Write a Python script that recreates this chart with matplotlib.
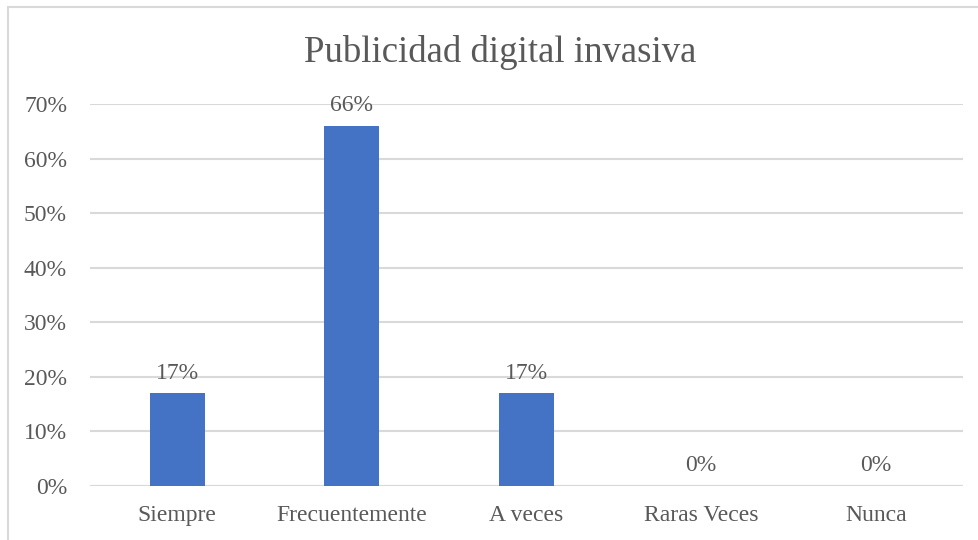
import matplotlib.pyplot as plt
from matplotlib.patches import Rectangle
from matplotlib.ticker import PercentFormatter

categorias = ["Siempre", "Frecuentemente", "A veces", "Raras Veces", "Nunca"]
porcentajes = [0.17, 0.66, 0.17, 0.0, 0.0]
etiquetas = ["17%", "66%", "17%", "0%", "0%"]

plt.rcParams['font.family'] = ['Liberation Serif', 'DejaVu Serif']
gris = '#595959'

fig = plt.figure(figsize=(9.79, 5.4), dpi=100)
ax = fig.add_axes([0.0919, 0.1, 0.8918, 0.7074])

# chart frame
fig.patches.append(Rectangle((8 / 979, -0.1), 1.2, 1.1 - 7 / 540,
                             transform=fig.transFigure, fill=False,
                             edgecolor='#d9d9d9', linewidth=1.5))

x = range(len(categorias))
ax.bar(x, porcentajes, width=0.315, color='#4472C4', zorder=3)
for xi, v, t in zip(x, porcentajes, etiquetas):
    ax.annotate(t, (xi, v), xytext=(0, 7), textcoords='offset points',
                ha='center', va='bottom', fontsize=17, color=gris)

ax.set_xlim(-0.5, len(categorias) - 0.5)
ax.set_ylim(0, 0.7)
ax.set_yticks([i / 10 for i in range(8)])
ax.yaxis.set_major_formatter(PercentFormatter(1.0, decimals=0))
ax.set_xticks(list(x))
ax.set_xticklabels(categorias)
ax.tick_params(axis='both', length=0, labelsize=17, labelcolor=gris)
ax.tick_params(axis='y', pad=16.5)
ax.tick_params(axis='x', pad=14)
ax.grid(axis='y', color='#d9d9d9', linewidth=1.5, zorder=0)
for s in ax.spines.values():
    s.set_visible(False)
ax.axhline(0, color='#d9d9d9', linewidth=1.5, zorder=1)

fig.text(0.511, 0.902, "Publicidad digital invasiva", ha='center', va='center',
         fontsize=26.5, color=gris)

fig.savefig('out.png', dpi=100)
